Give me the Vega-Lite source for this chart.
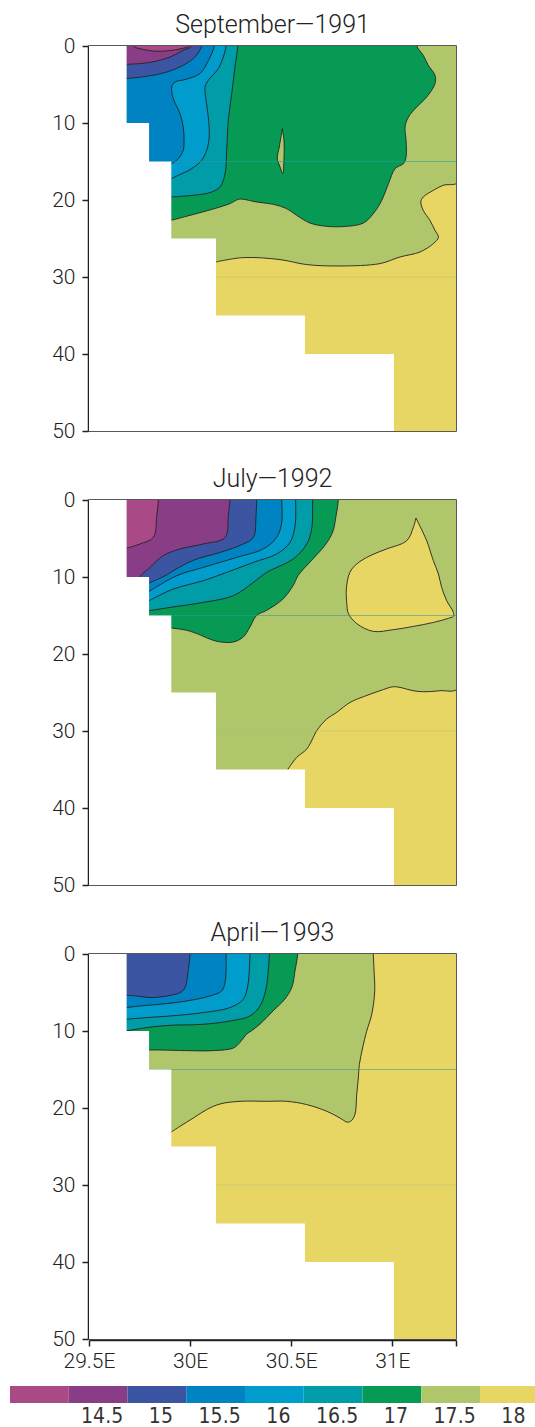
{
"$schema": "https://vega.github.io/schema/vega-lite/v6.json",
"padding": {"left": 10, "top": 12, "right": 0, "bottom": 0},
"background": "white",
"config": {
  "font": "Roboto",
  "view": {"stroke": "#222", "strokeWidth": 1.5},
  "axis": {"labelFont": "Roboto", "labelFontWeight": 300, "labelFontSize": 21, "labelColor": "#222", "labelFlush": false, "tickColor": "#222", "domainColor": "#222", "grid": false, "title": null, "zindex": 1, "tickSize": 6, "domainWidth": 1.5, "tickWidth": 1.5}
},
"datasets": {
"poly": [
{"p":1,"g":"base","k":0,"x":29.45,"y":-1},{"p":1,"g":"base","k":1,"x":31.33,"y":-1},{"p":1,"g":"base","k":2,"x":31.33,"y":51},{"p":1,"g":"base","k":3,"x":29.45,"y":51},
{"p":2,"g":"base","k":0,"x":29.45,"y":-1},{"p":2,"g":"base","k":1,"x":31.33,"y":-1},{"p":2,"g":"base","k":2,"x":31.33,"y":51},{"p":2,"g":"base","k":3,"x":29.45,"y":51},
{"p":3,"g":"base","k":0,"x":29.45,"y":-1},{"p":3,"g":"base","k":1,"x":31.33,"y":-1},{"p":3,"g":"base","k":2,"x":31.33,"y":51},{"p":3,"g":"base","k":3,"x":29.45,"y":51},

{"p":1,"g":"mask","k":0,"x":29.45,"y":-1},{"p":1,"g":"mask","k":1,"x":29.686,"y":-1},{"p":1,"g":"mask","k":2,"x":29.686,"y":10},{"p":1,"g":"mask","k":3,"x":29.797,"y":10},{"p":1,"g":"mask","k":4,"x":29.797,"y":15},{"p":1,"g":"mask","k":5,"x":29.907,"y":15},{"p":1,"g":"mask","k":6,"x":29.907,"y":25},{"p":1,"g":"mask","k":7,"x":30.128,"y":25},{"p":1,"g":"mask","k":8,"x":30.128,"y":35},{"p":1,"g":"mask","k":9,"x":30.568,"y":35},{"p":1,"g":"mask","k":10,"x":30.568,"y":40},{"p":1,"g":"mask","k":11,"x":31.008,"y":40},{"p":1,"g":"mask","k":12,"x":31.008,"y":51},{"p":1,"g":"mask","k":13,"x":29.45,"y":51},
{"p":2,"g":"mask","k":0,"x":29.45,"y":-1},{"p":2,"g":"mask","k":1,"x":29.686,"y":-1},{"p":2,"g":"mask","k":2,"x":29.686,"y":10},{"p":2,"g":"mask","k":3,"x":29.797,"y":10},{"p":2,"g":"mask","k":4,"x":29.797,"y":15},{"p":2,"g":"mask","k":5,"x":29.907,"y":15},{"p":2,"g":"mask","k":6,"x":29.907,"y":25},{"p":2,"g":"mask","k":7,"x":30.128,"y":25},{"p":2,"g":"mask","k":8,"x":30.128,"y":35},{"p":2,"g":"mask","k":9,"x":30.568,"y":35},{"p":2,"g":"mask","k":10,"x":30.568,"y":40},{"p":2,"g":"mask","k":11,"x":31.008,"y":40},{"p":2,"g":"mask","k":12,"x":31.008,"y":51},{"p":2,"g":"mask","k":13,"x":29.45,"y":51},
{"p":3,"g":"mask","k":0,"x":29.45,"y":-1},{"p":3,"g":"mask","k":1,"x":29.686,"y":-1},{"p":3,"g":"mask","k":2,"x":29.686,"y":10},{"p":3,"g":"mask","k":3,"x":29.797,"y":10},{"p":3,"g":"mask","k":4,"x":29.797,"y":15},{"p":3,"g":"mask","k":5,"x":29.907,"y":15},{"p":3,"g":"mask","k":6,"x":29.907,"y":25},{"p":3,"g":"mask","k":7,"x":30.128,"y":25},{"p":3,"g":"mask","k":8,"x":30.128,"y":35},{"p":3,"g":"mask","k":9,"x":30.568,"y":35},{"p":3,"g":"mask","k":10,"x":30.568,"y":40},{"p":3,"g":"mask","k":11,"x":31.008,"y":40},{"p":3,"g":"mask","k":12,"x":31.008,"y":51},{"p":3,"g":"mask","k":13,"x":29.45,"y":51},

{"p":1,"g":"18","k":0,"x":29.45,"y":28.05},{"p":1,"g":"18","k":1,"x":29.45,"y":-1},{"p":1,"g":"18","k":2,"x":31.33,"y":-1},{"p":1,"g":"18","k":3,"x":31.33,"y":17.6},{"p":1,"g":"18","k":4,"x":31.252,"y":18.09},{"p":1,"g":"18","k":5,"x":31.203,"y":18.74},{"p":1,"g":"18","k":6,"x":31.153,"y":19.61},{"p":1,"g":"18","k":7,"x":31.141,"y":20.26},{"p":1,"g":"18","k":8,"x":31.153,"y":21.34},{"p":1,"g":"18","k":9,"x":31.186,"y":22.64},{"p":1,"g":"18","k":10,"x":31.211,"y":23.94},{"p":1,"g":"18","k":11,"x":31.228,"y":24.84},{"p":1,"g":"18","k":12,"x":31.203,"y":25.66},{"p":1,"g":"18","k":13,"x":31.137,"y":26.75},{"p":1,"g":"18","k":14,"x":31.038,"y":27.4},{"p":1,"g":"18","k":15,"x":30.939,"y":28.26},{"p":1,"g":"18","k":16,"x":30.741,"y":28.57},{"p":1,"g":"18","k":17,"x":30.577,"y":28.39},{"p":1,"g":"18","k":18,"x":30.445,"y":27.74},{"p":1,"g":"18","k":19,"x":30.263,"y":27.48},{"p":1,"g":"18","k":20,"x":30.127,"y":28.05},

{"p":1,"g":"175","k":0,"x":29.45,"y":22.64},{"p":1,"g":"175","k":1,"x":29.45,"y":-1},{"p":1,"g":"175","k":2,"x":31.121,"y":-1},{"p":1,"g":"175","k":3,"x":31.121,"y":0},{"p":1,"g":"175","k":4,"x":31.153,"y":1.21},{"p":1,"g":"175","k":5,"x":31.178,"y":2.51},{"p":1,"g":"175","k":6,"x":31.211,"y":3.8},{"p":1,"g":"175","k":7,"x":31.211,"y":4.89},{"p":1,"g":"175","k":8,"x":31.17,"y":6.62},{"p":1,"g":"175","k":9,"x":31.121,"y":7.92},{"p":1,"g":"175","k":10,"x":31.08,"y":9.22},{"p":1,"g":"175","k":11,"x":31.063,"y":10.52},{"p":1,"g":"175","k":12,"x":31.068,"y":12.25},{"p":1,"g":"175","k":13,"x":31.068,"y":14.4},{"p":1,"g":"175","k":14,"x":31.055,"y":15.27},{"p":1,"g":"175","k":15,"x":31.014,"y":15.92},{"p":1,"g":"175","k":16,"x":30.981,"y":17.87},{"p":1,"g":"175","k":17,"x":30.948,"y":20.04},{"p":1,"g":"175","k":18,"x":30.906,"y":21.77},{"p":1,"g":"175","k":19,"x":30.857,"y":22.99},{"p":1,"g":"175","k":20,"x":30.775,"y":23.42},{"p":1,"g":"175","k":21,"x":30.676,"y":23.42},{"p":1,"g":"175","k":22,"x":30.593,"y":22.99},{"p":1,"g":"175","k":23,"x":30.527,"y":21.99},{"p":1,"g":"175","k":24,"x":30.477,"y":21.12},{"p":1,"g":"175","k":25,"x":30.412,"y":20.56},{"p":1,"g":"175","k":26,"x":30.329,"y":20.26},{"p":1,"g":"175","k":27,"x":30.263,"y":19.91},{"p":1,"g":"175","k":28,"x":30.239,"y":19.91},{"p":1,"g":"175","k":29,"x":30.198,"y":20.46},{"p":1,"g":"175","k":30,"x":30.115,"y":21.16},{"p":1,"g":"175","k":31,"x":30.0,"y":21.99},{"p":1,"g":"175","k":32,"x":29.907,"y":22.64},

{"p":1,"g":"i175","k":0,"x":30.456,"y":10.73},{"p":1,"g":"i175","k":1,"x":30.464,"y":12.25},{"p":1,"g":"i175","k":2,"x":30.464,"y":14.84},{"p":1,"g":"i175","k":3,"x":30.458,"y":16.57},{"p":1,"g":"i175","k":4,"x":30.445,"y":15.71},{"p":1,"g":"i175","k":5,"x":30.431,"y":14.62},{"p":1,"g":"i175","k":6,"x":30.441,"y":13.12},{"p":1,"g":"i175","k":7,"x":30.456,"y":10.73},

{"p":1,"g":"17","k":0,"x":29.45,"y":19.61},{"p":1,"g":"17","k":1,"x":29.45,"y":-1},{"p":1,"g":"17","k":2,"x":30.236,"y":-1},{"p":1,"g":"17","k":3,"x":30.236,"y":0},{"p":1,"g":"17","k":4,"x":30.222,"y":2.73},{"p":1,"g":"17","k":5,"x":30.206,"y":6.18},{"p":1,"g":"17","k":6,"x":30.189,"y":9.65},{"p":1,"g":"17","k":7,"x":30.181,"y":13.54},{"p":1,"g":"17","k":8,"x":30.173,"y":16.57},{"p":1,"g":"17","k":9,"x":30.148,"y":18.31},{"p":1,"g":"17","k":10,"x":30.098,"y":19.04},{"p":1,"g":"17","k":11,"x":30.016,"y":19.39},{"p":1,"g":"17","k":12,"x":29.907,"y":19.61},

{"p":1,"g":"165","k":0,"x":29.45,"y":17.22},{"p":1,"g":"165","k":1,"x":29.45,"y":-1},{"p":1,"g":"165","k":2,"x":30.178,"y":-1},{"p":1,"g":"165","k":3,"x":30.178,"y":0},{"p":1,"g":"165","k":4,"x":30.164,"y":1.43},{"p":1,"g":"165","k":5,"x":30.139,"y":2.94},{"p":1,"g":"165","k":6,"x":30.09,"y":4.46},{"p":1,"g":"165","k":7,"x":30.074,"y":5.32},{"p":1,"g":"165","k":8,"x":30.079,"y":7.05},{"p":1,"g":"165","k":9,"x":30.09,"y":9.22},{"p":1,"g":"165","k":10,"x":30.095,"y":11.38},{"p":1,"g":"165","k":11,"x":30.087,"y":13.12},{"p":1,"g":"165","k":12,"x":30.057,"y":14.84},{"p":1,"g":"165","k":13,"x":30.008,"y":15.92},{"p":1,"g":"165","k":14,"x":29.942,"y":16.79},{"p":1,"g":"165","k":15,"x":29.907,"y":17.22},

{"p":1,"g":"16","k":0,"x":29.45,"y":15.3},{"p":1,"g":"16","k":1,"x":29.45,"y":-1},{"p":1,"g":"16","k":2,"x":30.12,"y":-1},{"p":1,"g":"16","k":3,"x":30.12,"y":0},{"p":1,"g":"16","k":4,"x":30.091,"y":1.86},{"p":1,"g":"16","k":5,"x":30.049,"y":3.58},{"p":1,"g":"16","k":6,"x":29.975,"y":4.36},{"p":1,"g":"16","k":7,"x":29.926,"y":4.67},{"p":1,"g":"16","k":8,"x":29.909,"y":5.32},{"p":1,"g":"16","k":9,"x":29.917,"y":6.83},{"p":1,"g":"16","k":10,"x":29.95,"y":8.78},{"p":1,"g":"16","k":11,"x":29.966,"y":10.52},{"p":1,"g":"16","k":12,"x":29.97,"y":12.25},{"p":1,"g":"16","k":13,"x":29.966,"y":13.55},{"p":1,"g":"16","k":14,"x":29.942,"y":14.63},{"p":1,"g":"16","k":15,"x":29.907,"y":15.3},

{"p":1,"g":"155","k":0,"x":29.45,"y":4.23},{"p":1,"g":"155","k":1,"x":29.45,"y":-1},{"p":1,"g":"155","k":2,"x":30.057,"y":-1},{"p":1,"g":"155","k":3,"x":30.057,"y":0},{"p":1,"g":"155","k":4,"x":30.024,"y":1.43},{"p":1,"g":"155","k":5,"x":29.966,"y":2.5},{"p":1,"g":"155","k":6,"x":29.884,"y":3.38},{"p":1,"g":"155","k":7,"x":29.785,"y":3.94},{"p":1,"g":"155","k":8,"x":29.683,"y":4.23},

{"p":1,"g":"15","k":0,"x":29.45,"y":2.38},{"p":1,"g":"15","k":1,"x":29.45,"y":-1},{"p":1,"g":"15","k":2,"x":30.008,"y":-1},{"p":1,"g":"15","k":3,"x":30.008,"y":0},{"p":1,"g":"15","k":4,"x":29.965,"y":0.56},{"p":1,"g":"15","k":5,"x":29.901,"y":1.43},{"p":1,"g":"15","k":6,"x":29.812,"y":2.08},{"p":1,"g":"15","k":7,"x":29.747,"y":2.29},{"p":1,"g":"15","k":8,"x":29.683,"y":2.38},

{"p":1,"g":"145","k":0,"x":29.72,"y":-1},{"p":1,"g":"145","k":1,"x":29.72,"y":0},{"p":1,"g":"145","k":2,"x":29.77,"y":0.45},{"p":1,"g":"145","k":3,"x":29.83,"y":0.68},{"p":1,"g":"145","k":4,"x":29.9,"y":0.6},{"p":1,"g":"145","k":5,"x":29.955,"y":0.35},{"p":1,"g":"145","k":6,"x":29.991,"y":0},{"p":1,"g":"145","k":7,"x":29.991,"y":-1},

{"p":2,"g":"18","k":0,"x":29.45,"y":35.5},{"p":2,"g":"18","k":1,"x":29.45,"y":-1},{"p":2,"g":"18","k":2,"x":31.33,"y":-1},{"p":2,"g":"18","k":3,"x":31.33,"y":24.4},{"p":2,"g":"18","k":4,"x":31.236,"y":24.77},{"p":2,"g":"18","k":5,"x":31.153,"y":24.9},{"p":2,"g":"18","k":6,"x":31.104,"y":24.77},{"p":2,"g":"18","k":7,"x":31.038,"y":24.34},{"p":2,"g":"18","k":8,"x":31.005,"y":24.25},{"p":2,"g":"18","k":9,"x":30.939,"y":24.77},{"p":2,"g":"18","k":10,"x":30.857,"y":25.55},{"p":2,"g":"18","k":11,"x":30.791,"y":26.29},{"p":2,"g":"18","k":12,"x":30.725,"y":27.58},{"p":2,"g":"18","k":13,"x":30.676,"y":28.44},{"p":2,"g":"18","k":14,"x":30.626,"y":29.96},{"p":2,"g":"18","k":15,"x":30.609,"y":30.83},{"p":2,"g":"18","k":16,"x":30.577,"y":32.34},{"p":2,"g":"18","k":17,"x":30.527,"y":33.43},{"p":2,"g":"18","k":18,"x":30.478,"y":35.2},

{"p":2,"g":"i18","k":0,"x":31.117,"y":2.34},{"p":2,"g":"i18","k":1,"x":31.17,"y":5.29},{"p":2,"g":"i18","k":2,"x":31.203,"y":7.88},{"p":2,"g":"i18","k":3,"x":31.228,"y":9.61},{"p":2,"g":"i18","k":4,"x":31.244,"y":11.35},{"p":2,"g":"i18","k":5,"x":31.269,"y":13.08},{"p":2,"g":"i18","k":6,"x":31.302,"y":14.6},{"p":2,"g":"i18","k":7,"x":31.302,"y":15.1},{"p":2,"g":"i18","k":8,"x":31.285,"y":15.3},{"p":2,"g":"i18","k":9,"x":31.203,"y":15.9},{"p":2,"g":"i18","k":10,"x":31.104,"y":16.42},{"p":2,"g":"i18","k":11,"x":31.005,"y":16.84},{"p":2,"g":"i18","k":12,"x":30.906,"y":17.06},{"p":2,"g":"i18","k":13,"x":30.824,"y":16.05},{"p":2,"g":"i18","k":14,"x":30.783,"y":14.75},{"p":2,"g":"i18","k":15,"x":30.775,"y":13.45},{"p":2,"g":"i18","k":16,"x":30.773,"y":11.5},{"p":2,"g":"i18","k":17,"x":30.79,"y":9.4},{"p":2,"g":"i18","k":18,"x":30.824,"y":8.31},{"p":2,"g":"i18","k":19,"x":30.89,"y":7.23},{"p":2,"g":"i18","k":20,"x":30.972,"y":6.36},{"p":2,"g":"i18","k":21,"x":31.071,"y":5.29},{"p":2,"g":"i18","k":22,"x":31.104,"y":3.56},{"p":2,"g":"i18","k":23,"x":31.117,"y":2.34},

{"p":2,"g":"175","k":0,"x":29.45,"y":16.62},{"p":2,"g":"175","k":1,"x":29.45,"y":-1},{"p":2,"g":"175","k":2,"x":30.733,"y":-1},{"p":2,"g":"175","k":3,"x":30.733,"y":0},{"p":2,"g":"175","k":4,"x":30.722,"y":2.04},{"p":2,"g":"175","k":5,"x":30.705,"y":4.16},{"p":2,"g":"175","k":6,"x":30.667,"y":5.88},{"p":2,"g":"175","k":7,"x":30.593,"y":8.05},{"p":2,"g":"175","k":8,"x":30.535,"y":9.78},{"p":2,"g":"175","k":9,"x":30.51,"y":11.08},{"p":2,"g":"175","k":10,"x":30.461,"y":12.81},{"p":2,"g":"175","k":11,"x":30.379,"y":14.33},{"p":2,"g":"175","k":12,"x":30.329,"y":14.98},{"p":2,"g":"175","k":13,"x":30.296,"y":16.49},{"p":2,"g":"175","k":14,"x":30.263,"y":17.79},{"p":2,"g":"175","k":15,"x":30.214,"y":18.44},{"p":2,"g":"175","k":16,"x":30.132,"y":18.35},{"p":2,"g":"175","k":17,"x":30.033,"y":17.35},{"p":2,"g":"175","k":18,"x":29.983,"y":16.92},{"p":2,"g":"175","k":19,"x":29.907,"y":16.62},

{"p":2,"g":"17","k":0,"x":29.45,"y":14.38},{"p":2,"g":"17","k":1,"x":29.45,"y":-1},{"p":2,"g":"17","k":2,"x":30.606,"y":-1},{"p":2,"g":"17","k":3,"x":30.606,"y":0},{"p":2,"g":"17","k":4,"x":30.601,"y":3.77},{"p":2,"g":"17","k":5,"x":30.577,"y":5.71},{"p":2,"g":"17","k":6,"x":30.51,"y":7.66},{"p":2,"g":"17","k":7,"x":30.379,"y":9.4},{"p":2,"g":"17","k":8,"x":30.313,"y":10.7},{"p":2,"g":"17","k":9,"x":30.214,"y":12.43},{"p":2,"g":"17","k":10,"x":30.065,"y":13.3},{"p":2,"g":"17","k":11,"x":29.901,"y":13.95},{"p":2,"g":"17","k":12,"x":29.797,"y":14.38},

{"p":2,"g":"165","k":0,"x":29.45,"y":13.08},{"p":2,"g":"165","k":1,"x":29.45,"y":-1},{"p":2,"g":"165","k":2,"x":30.522,"y":-1},{"p":2,"g":"165","k":3,"x":30.522,"y":0},{"p":2,"g":"165","k":4,"x":30.519,"y":3.34},{"p":2,"g":"165","k":5,"x":30.494,"y":5.51},{"p":2,"g":"165","k":6,"x":30.428,"y":7.01},{"p":2,"g":"165","k":7,"x":30.313,"y":8.1},{"p":2,"g":"165","k":8,"x":30.181,"y":9.4},{"p":2,"g":"165","k":9,"x":30.065,"y":10.48},{"p":2,"g":"165","k":10,"x":29.917,"y":11.56},{"p":2,"g":"165","k":11,"x":29.797,"y":13.08},

{"p":2,"g":"16","k":0,"x":29.45,"y":11.87},{"p":2,"g":"16","k":1,"x":29.45,"y":-1},{"p":2,"g":"16","k":2,"x":30.453,"y":-1},{"p":2,"g":"16","k":3,"x":30.453,"y":0},{"p":2,"g":"16","k":4,"x":30.453,"y":2.91},{"p":2,"g":"16","k":5,"x":30.428,"y":4.86},{"p":2,"g":"16","k":6,"x":30.362,"y":6.36},{"p":2,"g":"16","k":7,"x":30.231,"y":7.45},{"p":2,"g":"16","k":8,"x":30.065,"y":8.75},{"p":2,"g":"16","k":9,"x":29.934,"y":9.83},{"p":2,"g":"16","k":10,"x":29.797,"y":11.87},

{"p":2,"g":"155","k":0,"x":29.45,"y":10.78},{"p":2,"g":"155","k":1,"x":29.45,"y":-1},{"p":2,"g":"155","k":2,"x":30.329,"y":-1},{"p":2,"g":"155","k":3,"x":30.329,"y":0},{"p":2,"g":"155","k":4,"x":30.326,"y":2.04},{"p":2,"g":"155","k":5,"x":30.313,"y":4.86},{"p":2,"g":"155","k":6,"x":30.263,"y":5.71},{"p":2,"g":"155","k":7,"x":30.148,"y":6.81},{"p":2,"g":"155","k":8,"x":30.016,"y":7.83},{"p":2,"g":"155","k":9,"x":29.917,"y":9.18},{"p":2,"g":"155","k":10,"x":29.884,"y":9.74},{"p":2,"g":"155","k":11,"x":29.797,"y":10.78},

{"p":2,"g":"15","k":0,"x":29.45,"y":10.6},{"p":2,"g":"15","k":1,"x":29.45,"y":-1},{"p":2,"g":"15","k":2,"x":30.197,"y":-1},{"p":2,"g":"15","k":3,"x":30.197,"y":0},{"p":2,"g":"15","k":4,"x":30.189,"y":2.04},{"p":2,"g":"15","k":5,"x":30.173,"y":4.86},{"p":2,"g":"15","k":6,"x":30.065,"y":5.71},{"p":2,"g":"15","k":7,"x":29.95,"y":6.36},{"p":2,"g":"15","k":8,"x":29.867,"y":7.23},{"p":2,"g":"15","k":9,"x":29.802,"y":8.75},{"p":2,"g":"15","k":10,"x":29.752,"y":10.0},{"p":2,"g":"15","k":11,"x":29.752,"y":10.6},

{"p":2,"g":"145","k":0,"x":29.45,"y":6.29},{"p":2,"g":"145","k":1,"x":29.45,"y":-1},{"p":2,"g":"145","k":2,"x":29.843,"y":-1},{"p":2,"g":"145","k":3,"x":29.843,"y":0},{"p":2,"g":"145","k":4,"x":29.835,"y":2.04},{"p":2,"g":"145","k":5,"x":29.818,"y":4.86},{"p":2,"g":"145","k":6,"x":29.752,"y":5.71},{"p":2,"g":"145","k":7,"x":29.683,"y":6.29},

{"p":3,"g":"18","k":0,"x":29.45,"y":23.12},{"p":3,"g":"18","k":1,"x":29.45,"y":-1},{"p":3,"g":"18","k":2,"x":30.906,"y":-1},{"p":3,"g":"18","k":3,"x":30.906,"y":0},{"p":3,"g":"18","k":4,"x":30.91,"y":2.25},{"p":3,"g":"18","k":5,"x":30.913,"y":4.84},{"p":3,"g":"18","k":6,"x":30.898,"y":7.87},{"p":3,"g":"18","k":7,"x":30.873,"y":10.04},{"p":3,"g":"18","k":8,"x":30.853,"y":12.21},{"p":3,"g":"18","k":9,"x":30.837,"y":14.36},{"p":3,"g":"18","k":10,"x":30.832,"y":16.1},{"p":3,"g":"18","k":11,"x":30.824,"y":18.26},{"p":3,"g":"18","k":12,"x":30.815,"y":20.86},{"p":3,"g":"18","k":13,"x":30.794,"y":21.73},{"p":3,"g":"18","k":14,"x":30.775,"y":21.82},{"p":3,"g":"18","k":15,"x":30.741,"y":21.3},{"p":3,"g":"18","k":16,"x":30.676,"y":20.43},{"p":3,"g":"18","k":17,"x":30.577,"y":19.56},{"p":3,"g":"18","k":18,"x":30.478,"y":19.13},{"p":3,"g":"18","k":19,"x":30.379,"y":19.13},{"p":3,"g":"18","k":20,"x":30.247,"y":19.13},{"p":3,"g":"18","k":21,"x":30.148,"y":19.48},{"p":3,"g":"18","k":22,"x":30.082,"y":20.21},{"p":3,"g":"18","k":23,"x":30.016,"y":21.3},{"p":3,"g":"18","k":24,"x":29.95,"y":22.38},{"p":3,"g":"18","k":25,"x":29.907,"y":23.12},

{"p":3,"g":"175","k":0,"x":29.45,"y":12.47},{"p":3,"g":"175","k":1,"x":29.45,"y":-1},{"p":3,"g":"175","k":2,"x":30.532,"y":-1},{"p":3,"g":"175","k":3,"x":30.532,"y":0},{"p":3,"g":"175","k":4,"x":30.519,"y":2.16},{"p":3,"g":"175","k":5,"x":30.503,"y":4.33},{"p":3,"g":"175","k":6,"x":30.469,"y":5.84},{"p":3,"g":"175","k":7,"x":30.412,"y":7.35},{"p":3,"g":"175","k":8,"x":30.346,"y":9.09},{"p":3,"g":"175","k":9,"x":30.305,"y":9.95},{"p":3,"g":"175","k":10,"x":30.28,"y":10.39},{"p":3,"g":"175","k":11,"x":30.247,"y":11.47},{"p":3,"g":"175","k":12,"x":30.214,"y":12.21},{"p":3,"g":"175","k":13,"x":30.115,"y":12.55},{"p":3,"g":"175","k":14,"x":29.983,"y":12.55},{"p":3,"g":"175","k":15,"x":29.851,"y":12.47},{"p":3,"g":"175","k":16,"x":29.797,"y":12.47},

{"p":3,"g":"17","k":0,"x":29.45,"y":10.0},{"p":3,"g":"17","k":1,"x":29.45,"y":-1},{"p":3,"g":"17","k":2,"x":30.392,"y":-1},{"p":3,"g":"17","k":3,"x":30.392,"y":0},{"p":3,"g":"17","k":4,"x":30.387,"y":1.99},{"p":3,"g":"17","k":5,"x":30.375,"y":4.59},{"p":3,"g":"17","k":6,"x":30.346,"y":6.75},{"p":3,"g":"17","k":7,"x":30.296,"y":8.05},{"p":3,"g":"17","k":8,"x":30.197,"y":8.7},{"p":3,"g":"17","k":9,"x":30.065,"y":9.13},{"p":3,"g":"17","k":10,"x":29.901,"y":9.26},{"p":3,"g":"17","k":11,"x":29.785,"y":9.56},{"p":3,"g":"17","k":12,"x":29.683,"y":10.0},

{"p":3,"g":"165","k":0,"x":29.45,"y":8.48},{"p":3,"g":"165","k":1,"x":29.45,"y":-1},{"p":3,"g":"165","k":2,"x":30.296,"y":-1},{"p":3,"g":"165","k":3,"x":30.296,"y":0},{"p":3,"g":"165","k":4,"x":30.293,"y":1.99},{"p":3,"g":"165","k":5,"x":30.285,"y":4.16},{"p":3,"g":"165","k":6,"x":30.263,"y":5.88},{"p":3,"g":"165","k":7,"x":30.197,"y":6.96},{"p":3,"g":"165","k":8,"x":30.065,"y":7.61},{"p":3,"g":"165","k":9,"x":29.901,"y":8.05},{"p":3,"g":"165","k":10,"x":29.785,"y":8.26},{"p":3,"g":"165","k":11,"x":29.683,"y":8.48},

{"p":3,"g":"16","k":0,"x":29.45,"y":6.96},{"p":3,"g":"16","k":1,"x":29.45,"y":-1},{"p":3,"g":"16","k":2,"x":30.178,"y":-1},{"p":3,"g":"16","k":3,"x":30.178,"y":0},{"p":3,"g":"16","k":4,"x":30.178,"y":1.99},{"p":3,"g":"16","k":5,"x":30.173,"y":3.68},{"p":3,"g":"16","k":6,"x":30.156,"y":4.81},{"p":3,"g":"16","k":7,"x":30.098,"y":5.45},{"p":3,"g":"16","k":8,"x":29.983,"y":6.1},{"p":3,"g":"16","k":9,"x":29.851,"y":6.53},{"p":3,"g":"16","k":10,"x":29.752,"y":6.75},{"p":3,"g":"16","k":11,"x":29.683,"y":6.96},

{"p":3,"g":"155","k":0,"x":29.45,"y":5.36},{"p":3,"g":"155","k":1,"x":29.45,"y":-1},{"p":3,"g":"155","k":2,"x":30.0,"y":-1},{"p":3,"g":"155","k":3,"x":30.0,"y":0},{"p":3,"g":"155","k":4,"x":29.991,"y":1.99},{"p":3,"g":"155","k":5,"x":29.975,"y":4.36},{"p":3,"g":"155","k":6,"x":29.95,"y":5.01},{"p":3,"g":"155","k":7,"x":29.884,"y":5.45},{"p":3,"g":"155","k":8,"x":29.802,"y":5.66},{"p":3,"g":"155","k":9,"x":29.736,"y":5.45},{"p":3,"g":"155","k":10,"x":29.683,"y":5.36},

{"p":1,"g":"r15","k":0,"x":29.907,"x2":31.33,"y":15},{"p":1,"g":"r30","k":0,"x":30.128,"x2":31.33,"y":30},
{"p":2,"g":"r15","k":0,"x":29.797,"x2":31.33,"y":15},{"p":2,"g":"r30","k":0,"x":30.128,"x2":31.33,"y":30},
{"p":3,"g":"r15","k":0,"x":29.797,"x2":31.33,"y":15},{"p":3,"g":"r30","k":0,"x":30.128,"x2":31.33,"y":30}
],
"leg": [
{"lo":14.0,"hi":14.5,"m":14.25,"t":""},
{"lo":14.5,"hi":15.0,"m":14.75,"t":"14.5"},
{"lo":15.0,"hi":15.5,"m":15.25,"t":"15"},
{"lo":15.5,"hi":16.0,"m":15.75,"t":"15.5"},
{"lo":16.0,"hi":16.5,"m":16.25,"t":"16"},
{"lo":16.5,"hi":17.0,"m":16.75,"t":"16.5"},
{"lo":17.0,"hi":17.5,"m":17.25,"t":"17"},
{"lo":17.5,"hi":18.0,"m":17.75,"t":"17.5"},
{"lo":18.0,"hi":18.5,"m":18.25,"t":"18"}
]
},
"vconcat": [
{
  "data": {"name": "poly"},
  "facet": {"field": "p", "type": "ordinal", "title": null,
    "header": {"labelExpr": "datum.value == 1 ? 'September—1991' : (datum.value == 2 ? 'July—1992' : 'April—1993')", "labelFontSize": 25, "labelFont": "Roboto", "labelFontWeight": 300, "labelColor": "#222", "labelPadding": 8}},
  "columns": 1,
  "spacing": 34,
  "spec": {
    "width": 367, "height": 385,
    "encoding": {
      "x": {"field": "x", "type": "quantitative", "scale": {"domain": [29.5, 31.315], "nice": false, "zero": false},
            "axis": {"values": [29.5, 30, 30.5, 31, 31.315], "labelExpr": "datum.value > 31.2 ? '' : format(datum.value, '~g') + 'E'", "labelPadding": 4}},
      "y": {"field": "y", "type": "quantitative", "scale": {"domain": [0, 50], "reverse": true, "nice": false, "zero": false},
            "axis": {"values": [0, 10, 20, 30, 40, 50], "labelPadding": 7}},
      "order": {"field": "k", "type": "quantitative"}
    },
    "layer": [
      {"transform": [{"filter": "datum.g == 'base'"}], "mark": {"type": "line", "fill": "#e8d664", "strokeWidth": 0, "clip": true}},
      {"transform": [{"filter": "datum.g == '18'"}], "mark": {"type": "line", "interpolate": "catmull-rom", "fill": "#afc66b", "stroke": "#222", "strokeWidth": 0.9, "clip": true}},
      {"transform": [{"filter": "datum.g == 'i18'"}], "mark": {"type": "line", "interpolate": "catmull-rom", "fill": "#e8d664", "stroke": "#222", "strokeWidth": 0.9, "clip": true}},
      {"transform": [{"filter": "datum.g == '175'"}], "mark": {"type": "line", "interpolate": "catmull-rom", "fill": "#079a55", "stroke": "#222", "strokeWidth": 0.9, "clip": true}},
      {"transform": [{"filter": "datum.g == 'i175'"}], "mark": {"type": "line", "interpolate": "catmull-rom", "fill": "#afc66b", "stroke": "#222", "strokeWidth": 0.9, "clip": true}},
      {"transform": [{"filter": "datum.g == '17'"}], "mark": {"type": "line", "interpolate": "catmull-rom", "fill": "#009ca8", "stroke": "#222", "strokeWidth": 0.9, "clip": true}},
      {"transform": [{"filter": "datum.g == '165'"}], "mark": {"type": "line", "interpolate": "catmull-rom", "fill": "#009dcc", "stroke": "#222", "strokeWidth": 0.9, "clip": true}},
      {"transform": [{"filter": "datum.g == '16'"}], "mark": {"type": "line", "interpolate": "catmull-rom", "fill": "#0083c2", "stroke": "#222", "strokeWidth": 0.9, "clip": true}},
      {"transform": [{"filter": "datum.g == '155'"}], "mark": {"type": "line", "interpolate": "catmull-rom", "fill": "#3b55a2", "stroke": "#222", "strokeWidth": 0.9, "clip": true}},
      {"transform": [{"filter": "datum.g == '15'"}], "mark": {"type": "line", "interpolate": "catmull-rom", "fill": "#893d87", "stroke": "#222", "strokeWidth": 0.9, "clip": true}},
      {"transform": [{"filter": "datum.g == '145'"}], "mark": {"type": "line", "interpolate": "catmull-rom", "fill": "#a94a86", "stroke": "#222", "strokeWidth": 0.9, "clip": true}},
      {"transform": [{"filter": "datum.g == 'r15'"}], "mark": {"type": "rule", "stroke": "#2a9d9a", "strokeOpacity": 0.55, "strokeWidth": 1, "clip": true}, "encoding": {"x2": {"field": "x2"}}},
      {"transform": [{"filter": "datum.g == 'r30'"}], "mark": {"type": "rule", "stroke": "#a9c27a", "strokeOpacity": 0.5, "strokeWidth": 1, "clip": true}, "encoding": {"x2": {"field": "x2"}}},
      {"transform": [{"filter": "datum.g == 'mask'"}], "mark": {"type": "line", "fill": "white", "strokeWidth": 0, "clip": true}}
    ]
  }
},
{
  "data": {"name": "leg"},
  "width": 367, "height": 17,
  "view": {"stroke": null},
  "layer": [
    {"mark": {"type": "rect", "clip": false},
     "encoding": {
       "x": {"field": "lo", "type": "quantitative", "scale": {"domain": [14.6723, 17.7957], "nice": false, "zero": false}, "axis": null},
       "x2": {"field": "hi"},
       "color": {"field": "lo", "type": "ordinal", "scale": {"domain": [14, 14.5, 15, 15.5, 16, 16.5, 17, 17.5, 18], "range": ["#a94a86", "#893d87", "#3b55a2", "#0083c2", "#009dcc", "#009ca8", "#079a55", "#afc66b", "#e8d664"]}, "legend": null}
     }},
    {"transform": [{"filter": "datum.t != ''"}],
     "mark": {"type": "text", "font": "'Liberation Sans Narrow', 'DejaVu Sans Condensed', 'Roboto Condensed', Roboto", "fontWeight": 300, "fontSize": 21, "color": "#333", "baseline": "middle", "align": "center", "dx": 4, "clip": false},
     "encoding": {
       "x": {"field": "m", "type": "quantitative"},
       "y": {"datum": -0.8, "type": "quantitative", "scale": {"domain": [0, 1], "nice": false, "zero": false}, "axis": null},
       "text": {"field": "t"}
     }}
  ]
}
],
"spacing": 15
}
